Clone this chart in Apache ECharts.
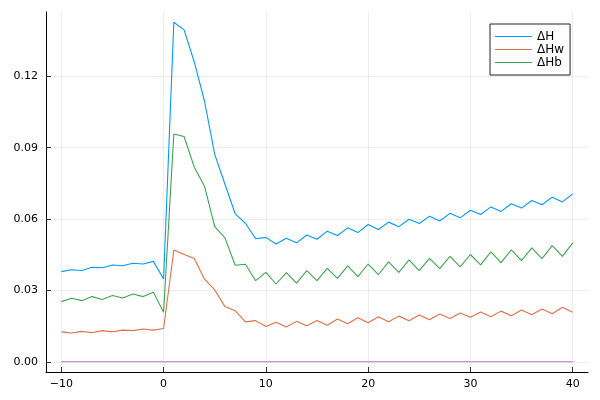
<!DOCTYPE html>
<html><head><meta charset="utf-8">
<script src="https://cdn.jsdelivr.net/npm/echarts@6/dist/echarts.min.js"></script>
<style>html,body{margin:0;padding:0;background:#fff}#c{width:600px;height:400px}</style>
</head><body><div id="c"></div>
<script>
const xs = [-10,-9,-8,-7,-6,-5,-4,-3,-2,-1,0,1,2,3,4,5,6,7,8,9,10,11,12,13,14,15,16,17,18,19,20,21,22,23,24,25,26,27,28,29,30,31,32,33,34,35,36,37,38,39,40];
const dH = [0.0379,0.0387,0.0384,0.0397,0.0395,0.0407,0.0404,0.0414,0.0411,0.0422,0.0348,
  0.1427,0.1395,0.1260,0.1095,0.0872,0.0746,0.0622,0.0582,0.0517,0.0523,
  0.0495,0.0519,0.0500,0.0533,0.0515,0.0549,0.0531,0.0563,0.0543,0.0577,
  0.0556,0.0587,0.0568,0.0599,0.0581,0.0612,0.0592,0.0624,0.0605,0.0637,
  0.0619,0.0651,0.0632,0.0664,0.0646,0.0678,0.0660,0.0692,0.0672,0.0706];
const dHw = [0.0126,0.0121,0.0128,0.0122,0.0131,0.0126,0.0133,0.0131,0.0138,0.0133,0.0140,
  0.0470,0.0451,0.0434,0.0347,0.0302,0.0232,0.0215,0.0168,0.0173,0.0148,
  0.0166,0.0146,0.0170,0.0152,0.0174,0.0154,0.0180,0.0160,0.0185,0.0164,
  0.0189,0.0168,0.0192,0.0173,0.0197,0.0177,0.0201,0.0182,0.0205,0.0187,
  0.0209,0.0189,0.0213,0.0194,0.0218,0.0198,0.0222,0.0202,0.0229,0.0208];
const dHb = [0.0253,0.0267,0.0257,0.0274,0.0262,0.0279,0.0268,0.0285,0.0274,0.0292,0.0208,
  0.0957,0.0947,0.0818,0.0738,0.0568,0.0521,0.0406,0.0410,0.0341,0.0376,
  0.0327,0.0375,0.0331,0.0383,0.0341,0.0393,0.0351,0.0403,0.0358,0.0411,
  0.0366,0.0420,0.0376,0.0428,0.0383,0.0435,0.0392,0.0443,0.0399,0.0451,
  0.0407,0.0462,0.0417,0.0470,0.0425,0.0479,0.0434,0.0488,0.0443,0.0500];
const zeroX = [-10, 40];
const zeroY = [0, 0];
const seriesNames = ['ΔH', 'ΔHw', 'ΔHb'];
const xTicks = [-10, 0, 10, 20, 30, 40];
const yTicks = [0, 0.03, 0.06, 0.09, 0.12];

const pair = (xv, yv) => xv.map((x, i) => [x, yv[i]]);
const chart = echarts.init(document.getElementById('c'), null, {renderer: 'canvas'});
const font = 'DejaVu Sans';
const lineSeries = (name, data, color) => ({
  name, type: 'line', data, showSymbol: false, symbol: 'none',
  lineStyle: {color, width: 1.1}, itemStyle: {color}, silent: true
});
chart.setOption({
  animation: false,
  textStyle: {fontFamily: font},
  grid: {left: 46, right: 12, top: 12, bottom: 28},
  xAxis: {
    type: 'value', min: -11.5, max: 41.5,
    axisLine: {show: true, onZero: false, lineStyle: {color: '#000', width: 1}},
    axisTick: {show: true, inside: true, length: 5, customValues: xTicks, lineStyle: {color: '#333'}},
    axisLabel: {customValues: xTicks, color: '#000', fontSize: 11, margin: 7, fontFamily: font,
      formatter: v => v < 0 ? '\u2212' + (-v) : String(v)},
    splitLine: {show: true, lineStyle: {color: 'rgba(0,0,0,0.07)', width: 1}}
  },
  yAxis: {
    type: 'value', min: -0.00428, max: 0.147,
    axisLine: {show: true, onZero: false, lineStyle: {color: '#000', width: 1}},
    axisTick: {show: true, inside: true, length: 5, customValues: yTicks, lineStyle: {color: '#333'}},
    axisLabel: {customValues: yTicks, color: '#000', fontSize: 11, margin: 8, fontFamily: font,
      formatter: v => v.toFixed(2)},
    splitLine: {show: true, lineStyle: {color: 'rgba(0,0,0,0.07)', width: 1}}
  },
  legend: {
    data: seriesNames, orient: 'vertical', left: 490, top: 24,
    borderColor: '#222', borderWidth: 1, borderRadius: 0, padding: [6, 6, 6, 5],
    backgroundColor: '#fff',
    icon: 'rect', itemWidth: 37, itemHeight: 1.2, itemGap: 0,
    textStyle: {fontSize: 12, color: '#000', lineHeight: 13, fontFamily: font}
  },
  series: [
    lineSeries(seriesNames[0], pair(xs, dH), '#009AFA'),
    lineSeries(seriesNames[1], pair(xs, dHw), '#E36F47'),
    lineSeries(seriesNames[2], pair(xs, dHb), '#3EA44E'),
    lineSeries('zero', pair(zeroX, zeroY), '#C271D2')
  ]
});
</script></body></html>
